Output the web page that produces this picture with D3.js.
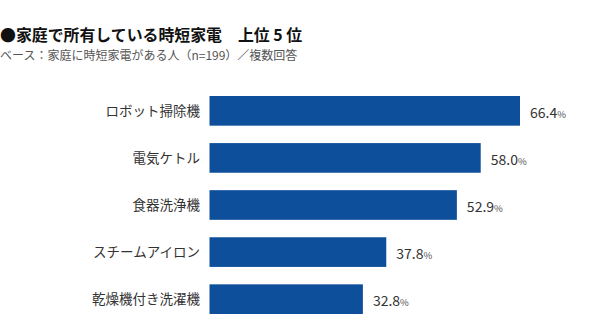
<!DOCTYPE html>
<html><head><meta charset="utf-8">
<script src="https://cdn.jsdelivr.net/npm/d3@7"></script>
<style>
html,body{margin:0;padding:0;background:#fff;}
text{font-family:"Noto Sans CJK JP","Noto Sans",sans-serif;}
</style></head>
<body><svg id="c" width="600" height="335"></svg>
<script>
const categories = ["ロボット掃除機","電気ケトル","食器洗浄機","スチームアイロン","乾燥機付き洗濯機"];
const values = [66.4, 58.0, 52.9, 37.8, 32.8];
const title = "●家庭で所有している時短家電　上位 5 位";
const subtitle = "ベース：家庭に時短家電がある人（n=199）／複数回答";

const svg = d3.select("#c");
const x = d3.scaleLinear().domain([0, 66.4]).range([209.5, 520]);
const y = d3.scaleBand().domain(categories).range([96, 314]).paddingInner(0.37).paddingOuter(0);

svg.append("text").attr("x", 0).attr("y", 41).attr("font-size", 15.9).attr("font-weight", "bold").attr("fill", "#111").text(title);
svg.append("text").attr("x", 0).attr("y", 60).attr("font-size", 12).attr("fill", "#555").text(subtitle);

svg.selectAll("rect.bar").data(values).join("rect").attr("class","bar")
  .attr("x", x(0)).attr("y", (d,i)=>y(categories[i]))
  .attr("width", d=>x(d)-x(0)).attr("height", y.bandwidth())
  .attr("fill", "#0e4f9b");

svg.selectAll("text.cat").data(categories).join("text").attr("class","cat")
  .attr("x", 200).attr("y", d=>y(d)+y.bandwidth()/2).attr("dy","0.35em")
  .attr("text-anchor","end").attr("font-size", 13.5).attr("fill","#333").text(d=>d);

const lab = svg.selectAll("text.val").data(values).join("text").attr("class","val")
  .attr("x", d=>x(d)+10).attr("y", (d,i)=>y(categories[i])+y.bandwidth()/2+2).attr("dy","0.35em")
  .attr("font-size", 14).attr("fill","#333");
lab.append("tspan").text(d=>d.toFixed(1));
lab.append("tspan").attr("font-size", 9.5).attr("fill","#555").text("%");
</script></body></html>
